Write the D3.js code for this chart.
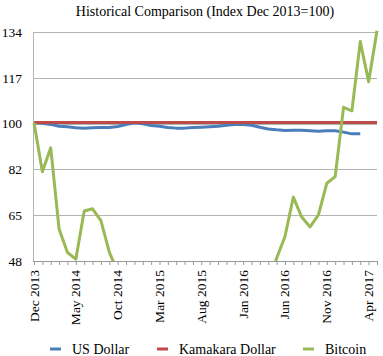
<!DOCTYPE html>
<html><head><meta charset="utf-8">
<script src="https://cdn.jsdelivr.net/npm/d3@7"></script>
<style>body{margin:0;background:#fff}svg{display:block}text{font-family:"Liberation Serif","Times New Roman",serif;fill:#000}</style>
</head><body><svg id="c" width="383" height="356"></svg>
<script>
const monthNames = ["Jan","Feb","Mar","Apr","May","Jun","Jul","Aug","Sep","Oct","Nov","Dec"];
const categories = [];
for (let i = 0; i < 42; i++) { const m = (11 + i) % 12, y = 2013 + Math.floor((11 + i) / 12); categories.push(monthNames[m] + " " + y); }
const usDollar = [100,99.75,99.3,98.6,98.4,98,97.9,98,98.1,98.1,98.5,99.25,99.9,99.5,98.9,98.6,98.1,97.9,97.9,98.1,98.25,98.4,98.6,99,99.25,99.25,99,98.25,97.6,97.25,97,97.1,97.1,96.9,96.75,96.9,96.9,96.4,95.75,95.75];
const kamakara = categories.map(() => 100);
const bitcoin = [100,81.5,90.5,60,51.2,48.7,66.8,67.6,63.2,51.3,44,40,36,30,28,30,32,29,30,33,31,28,30,37,44,42,41,43,40,49,57.2,72,64.5,60.8,65.3,77.2,79.7,105.7,104.4,130.4,115.3,134.5];
const yTicks = [48,65.2,82.4,99.6,116.8,134];
const tickLabels = ["Dec 2013","May 2014","Oct 2014","Mar 2015","Aug 2015","Jan 2016","Jun 2016","Nov 2016","Apr 2017"];
const seriesNames = ["US Dollar","Kamakara Dollar","Bitcoin"];
const colors = ["#4a7ebb","#be4b48","#98b954"];

const svg = d3.select("#c");
const L = 34, R = 377, T = 32, B = 261;
const x = d3.scalePoint().domain(categories).range([L, R]);
const y = d3.scaleLinear().domain([48, 134]).range([B, T]);

svg.append("text").attr("x", 205).attr("y", 16).attr("text-anchor", "middle").attr("font-size", 14).text("Historical Comparison (Index Dec 2013=100)");

// grid
svg.append("g").selectAll("line").data(yTicks.slice(1)).join("line")
  .attr("x1", L).attr("x2", R).attr("y1", d => Math.round(y(d)) + 0.5).attr("y2", d => Math.round(y(d)) + 0.5)
  .attr("stroke", "#b3b3b3").attr("stroke-width", 1);
// left axis line
svg.append("line").attr("x1", L - 0.5).attr("x2", L - 0.5).attr("y1", T).attr("y2", B).attr("stroke", "#b3b3b3");

// y labels
svg.append("g").selectAll("text").data(yTicks).join("text")
  .attr("x", 22).attr("y", d => y(d)).attr("dy", "0.35em").attr("text-anchor", "end").attr("font-size", 13.5)
  .text(d => Math.round(d));

// x axis
const xa = svg.append("g").attr("transform", `translate(0,${B})`)
  .call(d3.axisBottom(x).tickSize(4).tickFormat(""));
xa.select(".domain").attr("stroke", "#999").attr("d", `M${L - 1},0.5H${R}`);
xa.selectAll(".tick line").attr("stroke", "#999");
svg.append("g").selectAll("text").data(tickLabels).join("text")
  .attr("transform", d => `translate(${x(d) + 4.5},${B + 9}) rotate(-90)`)
  .attr("text-anchor", "end").attr("font-size", 13.5).text(d => d);

// clip
svg.append("clipPath").attr("id", "clip").append("rect").attr("x", L - 2).attr("y", T - 4).attr("width", R - L + 4).attr("height", B - T + 4);
const g = svg.append("g").attr("clip-path", "url(#clip)");
const line = d3.line().x((d, i) => x(categories[i])).y(d => y(d));
[usDollar, kamakara, bitcoin].forEach((s, k) => {
  g.append("path").datum(s).attr("d", line).attr("fill", "none").attr("stroke", colors[k])
    .attr("stroke-width", 3).attr("stroke-linejoin", "round");
});
// legend
const lx = [50, 157, 303];
seriesNames.forEach((n, k) => {
  svg.append("line").attr("x1", lx[k]).attr("x2", lx[k] + 11).attr("y1", 349).attr("y2", 349).attr("stroke", colors[k]).attr("stroke-width", 3);
  svg.append("text").attr("x", lx[k] + 22).attr("y", 349).attr("dy", "0.35em").attr("font-size", 14).text(n);
});
</script></body></html>
